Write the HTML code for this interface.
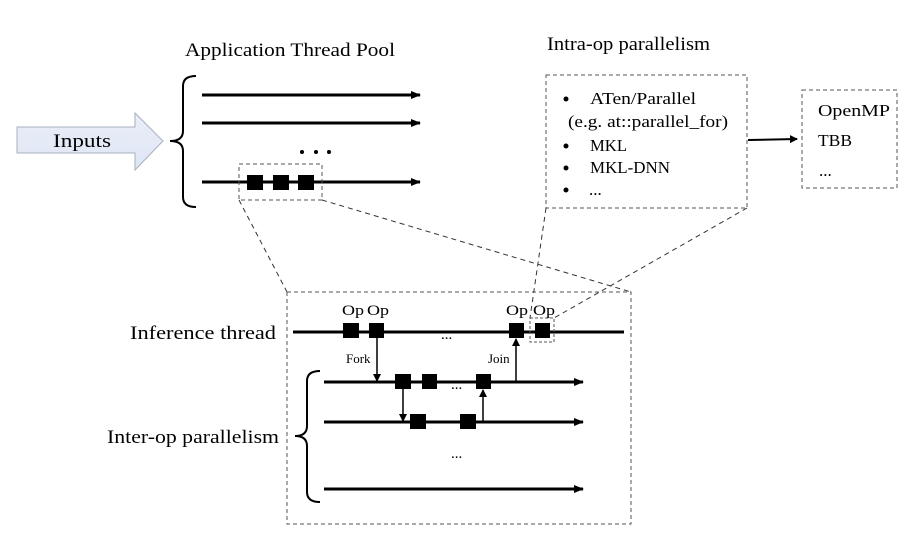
<!DOCTYPE html>
<html><head><meta charset="utf-8"><style>
html,body{margin:0;padding:0;background:#fff;}
svg{display:block;}
text{font-family:"Liberation Serif",serif;fill:#000;}
</style></head><body>
<svg width="924" height="543" viewBox="0 0 924 543" xmlns="http://www.w3.org/2000/svg">
<defs>
<marker id="ah" markerWidth="10" markerHeight="8" refX="9" refY="4" orient="auto" markerUnits="userSpaceOnUse"><path d="M0,0 L10,4 L0,8 z" fill="#000"/></marker>
<marker id="as" markerWidth="8" markerHeight="8" refX="7" refY="4" orient="auto" markerUnits="userSpaceOnUse"><path d="M0,0 L8,4 L0,8 z" fill="#000"/></marker>
<linearGradient id="g" x1="0" y1="0" x2="0" y2="1"><stop offset="0" stop-color="#e9eef8"/><stop offset="1" stop-color="#dfe6f4"/></linearGradient>
</defs>

<text x="185" y="56" font-size="19" textLength="210" lengthAdjust="spacingAndGlyphs">Application Thread Pool</text>
<text x="547" y="50" font-size="19" textLength="163" lengthAdjust="spacingAndGlyphs">Intra-op parallelism</text>

<!-- Inputs arrow -->
<path d="M17,127 L135,127 L135,113 L163,141 L135,170 L135,153 L17,153 Z" fill="url(#g)" stroke="#a8b0bc" stroke-width="1"/>
<text x="53" y="147" font-size="19" textLength="58" lengthAdjust="spacingAndGlyphs">Inputs</text>

<!-- bracket top -->
<path d="M196,76 Q183,76 183,86 L183,131 Q183,141 170,141 Q183,141 183,151 L183,197 Q183,207 196,207" fill="none" stroke="#000" stroke-width="2"/>

<line x1="202" y1="95" x2="420" y2="95" stroke="#000" stroke-width="3" marker-end="url(#ah)"/>
<line x1="202" y1="123" x2="420" y2="123" stroke="#000" stroke-width="3" marker-end="url(#ah)"/>
<line x1="202" y1="182" x2="420" y2="182" stroke="#000" stroke-width="3" marker-end="url(#ah)"/>
<circle cx="302" cy="152" r="2" fill="#000"/><circle cx="316" cy="152" r="2" fill="#000"/><circle cx="329" cy="152" r="2" fill="#000"/>
<rect x="247" y="175" width="16" height="15" fill="#000"/>
<rect x="273" y="175" width="16" height="15" fill="#000"/>
<rect x="298" y="175" width="16" height="15" fill="#000"/>
<rect x="239" y="164" width="83" height="36" fill="none" stroke="#555" stroke-width="1" stroke-dasharray="4,3"/>

<!-- intra box -->
<rect x="546" y="75" width="201" height="133" fill="none" stroke="#555" stroke-width="1" stroke-dasharray="4,3"/>
<g font-size="17">
<circle cx="566" cy="99" r="2.5" fill="#000"/><text x="590" y="104" textLength="106" lengthAdjust="spacingAndGlyphs">ATen/Parallel</text>
<text x="568" y="127" textLength="160" lengthAdjust="spacingAndGlyphs">(e.g. at::parallel_for)</text>
<circle cx="566" cy="146" r="2.5" fill="#000"/><text x="590" y="151" textLength="37" lengthAdjust="spacingAndGlyphs">MKL</text>
<circle cx="566" cy="168" r="2.5" fill="#000"/><text x="590" y="173" textLength="80" lengthAdjust="spacingAndGlyphs">MKL-DNN</text>
<circle cx="566" cy="190" r="2.5" fill="#000"/><text x="589" y="195">...</text>
</g>
<line x1="748" y1="140" x2="797" y2="139" stroke="#000" stroke-width="2" marker-end="url(#as)"/>
<rect x="802" y="90" width="95" height="98" fill="none" stroke="#555" stroke-width="1" stroke-dasharray="4,3"/>
<g font-size="17">
<text x="818" y="116" textLength="72" lengthAdjust="spacingAndGlyphs">OpenMP</text>
<text x="818" y="146" textLength="34" lengthAdjust="spacingAndGlyphs">TBB</text>
<text x="819" y="176">...</text>
</g>

<!-- zoom lines -->
<g stroke="#333" stroke-width="1" stroke-dasharray="5,4" fill="none">
<line x1="239" y1="200" x2="287" y2="292"/>
<line x1="322" y1="200" x2="631" y2="292"/>
<line x1="546" y1="208" x2="530" y2="318"/>
<line x1="747" y1="208" x2="554" y2="318"/>
</g>

<!-- bottom box -->
<rect x="287" y="292" width="344" height="232" fill="none" stroke="#555" stroke-width="1" stroke-dasharray="4,3"/>

<text x="130" y="339" font-size="19" textLength="146" lengthAdjust="spacingAndGlyphs">Inference thread</text>
<text x="107" y="443" font-size="19" textLength="172" lengthAdjust="spacingAndGlyphs">Inter-op parallelism</text>

<line x1="293" y1="332" x2="624" y2="332" stroke="#000" stroke-width="3"/>
<rect x="343" y="323" width="16" height="15" fill="#000"/>
<rect x="369" y="323" width="15" height="15" fill="#000"/>
<rect x="509" y="323" width="15" height="15" fill="#000"/>
<rect x="535" y="323" width="15" height="15" fill="#000"/>
<rect x="530" y="318" width="24" height="24" fill="none" stroke="#555" stroke-width="1" stroke-dasharray="3,2"/>
<g font-size="15">
<text x="342" y="315" textLength="22" lengthAdjust="spacingAndGlyphs">Op</text>
<text x="367" y="315" textLength="22" lengthAdjust="spacingAndGlyphs">Op</text>
<text x="506" y="315" textLength="22" lengthAdjust="spacingAndGlyphs">Op</text>
<text x="533" y="315" textLength="22" lengthAdjust="spacingAndGlyphs">Op</text>
</g>
<text x="441" y="339" font-size="15">...</text>
<text x="346" y="363" font-size="13">Fork</text>
<text x="488" y="363" font-size="13">Join</text>

<line x1="377" y1="338" x2="377" y2="381" stroke="#000" stroke-width="1.5" marker-end="url(#as)"/>
<line x1="516" y1="382" x2="516" y2="339" stroke="#000" stroke-width="1.5" marker-end="url(#as)"/>

<path d="M320,371 Q307,371 307,381 L307,426 Q307,436 295,436 Q307,436 307,446 L307,492 Q307,502 320,502" fill="none" stroke="#000" stroke-width="2"/>

<line x1="324" y1="382" x2="583" y2="382" stroke="#000" stroke-width="3" marker-end="url(#ah)"/>
<line x1="324" y1="422" x2="583" y2="422" stroke="#000" stroke-width="3" marker-end="url(#ah)"/>
<line x1="324" y1="489" x2="583" y2="489" stroke="#000" stroke-width="3" marker-end="url(#ah)"/>
<rect x="395" y="374" width="16" height="15" fill="#000"/>
<rect x="422" y="374" width="15" height="15" fill="#000"/>
<rect x="476" y="374" width="15" height="15" fill="#000"/>
<rect x="410" y="414" width="16" height="15" fill="#000"/>
<rect x="460" y="414" width="16" height="15" fill="#000"/>
<text x="451" y="389" font-size="15">...</text>
<text x="451" y="458" font-size="15">...</text>
<line x1="403" y1="389" x2="403" y2="421" stroke="#000" stroke-width="1.5" marker-end="url(#as)"/>
<line x1="483" y1="422" x2="483" y2="390" stroke="#000" stroke-width="1.5" marker-end="url(#as)"/>
</svg>
</body></html>
